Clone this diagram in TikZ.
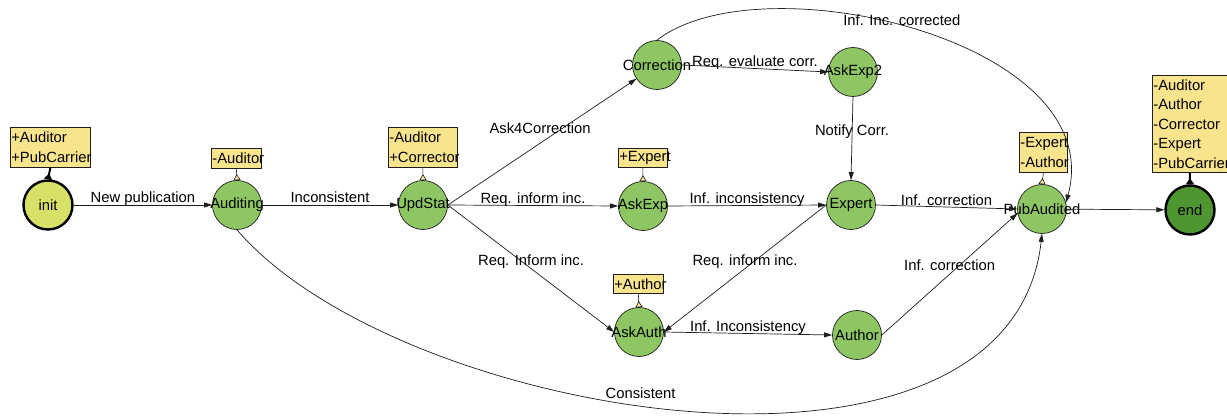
\documentclass[tikz,border=0pt]{standalone}
\usepackage{fontspec}
\setmainfont{Liberation Sans}
\usetikzlibrary{arrows.meta}
\definecolor{stategreen}{RGB}{141,198,99}
\definecolor{initfill}{RGB}{216,224,104}
\definecolor{endfill}{RGB}{78,150,48}
\definecolor{boxfill}{RGB}{249,228,142}
\definecolor{ink}{RGB}{30,30,30}
\begin{document}
\begin{tikzpicture}[x=1pt, y=-1pt,
  font=\fontsize{14.8}{19.5}\selectfont,
  state/.style={circle, draw=ink, line width=0.7pt, fill=stategreen, minimum size=49pt, inner sep=0pt},
  initstate/.style={state, fill=initfill, line width=2.4pt, draw=black},
  finalstate/.style={state, fill=endfill, line width=2.4pt, draw=black},
  rolebox/.style={draw=ink, line width=0.7pt, fill=boxfill, anchor=north west, inner sep=1pt, align=left},
  trans/.style={draw=ink, line width=0.7pt, -{Triangle[length=8pt, width=5pt]}},
  rolelink/.style={draw=ink, line width=0.6pt, {Triangle[reversed, length=6pt, width=7pt, fill=boxfill]}-},
  heavylink/.style={draw=black, line width=2pt, {Triangle[reversed, length=6pt, width=8pt]}-},
  toplbl/.style={anchor=base, yshift=2pt, inner sep=0pt},
  onlbl/.style={anchor=center, inner sep=0pt},
]
\useasboundingbox[fill=white] (0,0) rectangle (1227,417);

% states
\node[initstate, label={center:init}] (init) at (48,205) {};
\node[state, label={center:Auditing}] (aud) at (237,205) {};
\node[state, label={center:UpdStat}] (upd) at (423,205) {};
\node[state, label={center:Correction}] (corr) at (657,65) {};
\node[state, label={center:AskExp2}] (ae2) at (853,72) {};
\node[state, label={center:AskExp}] (ae) at (643,206) {};
\node[state, label={center:Expert}] (exp) at (851,205) {};
\node[state, label={center:PubAudited}] (pub) at (1042,209) {};
\node[finalstate, label={center:end}] (fin) at (1190,210) {};
\node[state, label={center:AskAuth}] (aa) at (639,332) {};
\node[state, label={center:Author}] (auth) at (857,335) {};

% role boxes (each line kept whole, overhanging text sticks out)
\node[rolebox, text width=78pt, minimum height=40pt] (initroles) at (10,127) {\mbox{+Auditor}\\\mbox{+PubCarrier}};
\node[rolebox, text width=48pt, minimum height=20pt] (audroles) at (211,148) {\mbox{-Auditor}};
\node[rolebox, text width=67pt, minimum height=40pt] (updroles) at (388,127) {\mbox{-Auditor}\\\mbox{+Corrector}};
\node[rolebox, text width=47pt, minimum height=19pt] (aeroles) at (618,148) {\mbox{+Expert}};
\node[rolebox, text width=46pt, minimum height=40pt] (pubroles) at (1019,132) {\mbox{-Expert}\\\mbox{-Author}};
\node[rolebox, text width=73pt, minimum height=97pt] (finroles) at (1152,75) {\mbox{-Auditor}\\\mbox{-Author}\\\mbox{-Corrector}\\\mbox{-Expert}\\\mbox{-PubCarrier}};
\node[rolebox, text width=48pt, minimum height=19pt] (aaroles) at (613,274) {\mbox{+Author}};

% links from states to their role boxes
\draw[heavylink] (init.north) -- (initroles.south);
\draw[rolelink] (aud.north) -- (audroles.south);
\draw[rolelink] (upd.north) -- (updroles.south);
\draw[rolelink] (ae.north) -- (aeroles.south);
\draw[rolelink] (pub.north) -- (pubroles.south);
\draw[rolelink] (aa.north) -- (aaroles.south);
\draw[heavylink] (fin.north) -- (finroles.south);

% transitions
\draw[trans] (init) -- node[toplbl]{New publication} (aud);
\draw[trans] (aud) -- node[toplbl]{Inconsistent} (upd);
\draw[trans] (upd.east) -- node[onlbl, xshift=-2pt, yshift=14pt]{Ask4Correction} (corr);
\draw[trans] (corr.east) -- node[toplbl]{Req. evaluate corr.} (ae2.west);
\draw[trans] (ae2.south) -- node[onlbl, yshift=6.5pt]{Notify Corr.} (exp.north);
\draw[trans] (upd.east) -- node[toplbl]{Req. inform inc.} (ae.west);
\draw[trans] (ae.east) -- node[toplbl]{Inf. inconsistency} (exp.west);
\draw[trans] (upd.east) -- node[onlbl, yshift=6.5pt]{Req. Inform inc.} (aa.west);
\draw[trans] (exp.west) -- node[onlbl, yshift=6.5pt]{Req. inform inc.} (aa.east);
\draw[trans] (aa.east) -- node[toplbl]{Inf. Inconsistency} (auth.west);
\draw[trans] (exp.east) -- node[toplbl]{Inf. correction} (pub.west);
\draw[trans] (auth.east) -- node[onlbl, yshift=9pt]{Inf. correction} (pub.190);
\draw[trans] (corr.north) .. controls (760,-40) and (1110,40) .. (pub.15)
  node[pos=0.49, onlbl, xshift=-9pt, yshift=8pt]{Inf. Inc. corrected};
\draw[trans] (aud.south) .. controls (400,420) and (1010,520) .. (pub.south)
  node[pos=0.455, toplbl, yshift=5pt]{Consistent};
\draw[trans] (pub) -- (fin);
\end{tikzpicture}
\end{document}
